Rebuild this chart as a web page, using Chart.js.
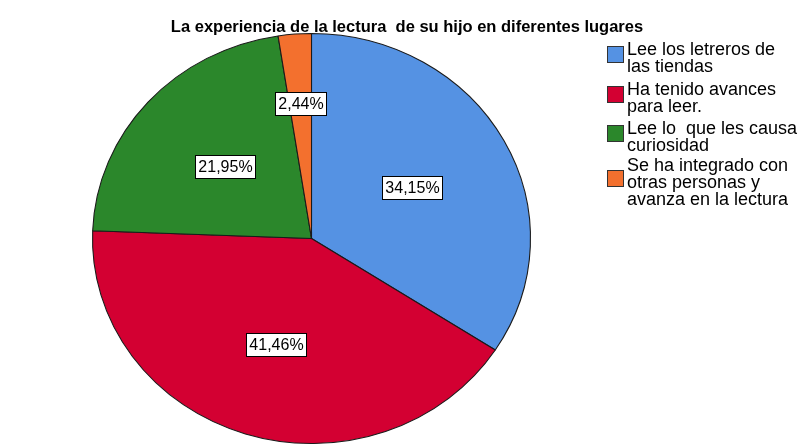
<!DOCTYPE html>
<html>
<head>
<meta charset="utf-8">
<script src="https://cdn.jsdelivr.net/npm/chart.js@4"></script>
<style>
  html, body { margin: 0; padding: 0; background: #fff; }
  #wrap { width: 798px; height: 445px; }
</style>
</head>
<body>
<div id="wrap"><canvas id="chart" width="798" height="445"></canvas></div>
<script>
const chartTitle = 'La experiencia de la lectura  de su hijo en diferentes lugares'
const categories = [
	['Lee los letreros de', 'las tiendas'],
	['Ha tenido avances', 'para leer.'],
	['Lee lo  que les causa', 'curiosidad'],
	['Se ha integrado con', 'otras personas y', 'avanza en la lectura']
]
const percents = [34.15, 41.46, 21.95, 2.44]
const sliceColors = ['#5592E3', '#D30032', '#2B872B', '#F3702E']

// the reference pie is a bit wider than tall
const STRETCH_X = 219 / 205
const labelDist = [0.52, 0.54, 0.53, 0.66]

const fmt = v => v.toFixed(2).replace('.', ',') + '%'

const spssLook = {
	id: 'spssLook',
	beforeDatasetsDraw(chart) {
		const arc = chart.getDatasetMeta(0).data[0]
		const ctx = chart.ctx
		ctx.save()
		ctx.translate(arc.x, 0)
		ctx.scale(STRETCH_X, 1)
		ctx.translate(-arc.x, 0)
	},
	afterDatasetsDraw(chart) {
		const ctx = chart.ctx
		ctx.restore()
		// value boxes
		ctx.save()
		ctx.font = '16px "Liberation Sans", Arial, sans-serif'
		ctx.textAlign = 'center'
		ctx.textBaseline = 'middle'
		chart.getDatasetMeta(0).data.forEach((arc, i) => {
			const mid = (arc.startAngle + arc.endAngle) / 2
			const r = arc.outerRadius * labelDist[i]
			const x = arc.x + Math.cos(mid) * r * STRETCH_X
			const y = arc.y + Math.sin(mid) * r
			const txt = fmt(chart.data.datasets[0].data[i])
			const w = Math.round(ctx.measureText(txt).width + 6)
			const h = 23
			const bx = Math.round(x - w / 2) + 0.5
			const by = Math.round(y - h / 2) + 0.5
			ctx.fillStyle = '#fff'
			ctx.fillRect(bx, by, w, h)
			ctx.strokeStyle = '#000'
			ctx.lineWidth = 1
			ctx.strokeRect(bx, by, w, h)
			ctx.fillStyle = '#000'
			ctx.fillText(txt, bx + w / 2, by + h / 2 + 1)
		})
		ctx.restore()
	},
	afterDraw(chart) {
		const ctx = chart.ctx
		ctx.save()
		// title
		ctx.fillStyle = '#000'
		ctx.font = 'bold 16.5px "Liberation Sans", Arial, sans-serif'
		ctx.textAlign = 'center'
		ctx.textBaseline = 'alphabetic'
		ctx.fillText(chartTitle, 407, 32)
		// legend
		ctx.font = '18px "Liberation Sans", Arial, sans-serif'
		ctx.textAlign = 'left'
		const baselines = [55, 95, 134, 171]
		const lineH = 17
		chart.data.labels.forEach((lines, i) => {
			const b0 = baselines[i]
			const meanB = b0 + (lines.length - 1) * lineH / 2
			const boxY = Math.round(meanB - 10 - 8) + 0.5
			ctx.fillStyle = chart.data.datasets[0].backgroundColor[i]
			ctx.fillRect(607.5, boxY, 16, 16)
			ctx.strokeStyle = '#333'
			ctx.lineWidth = 1
			ctx.strokeRect(607.5, boxY, 16, 16)
			ctx.fillStyle = '#000'
			lines.forEach((ln, j) => ctx.fillText(ln, 627, b0 + j * lineH))
		})
		ctx.restore()
	}
}

new Chart(document.getElementById('chart'), {
	type: 'pie',
	data: {
		labels: categories,
		datasets: [{
			data: percents,
			backgroundColor: sliceColors,
			borderColor: '#1a1a1a',
			borderWidth: 1
		}]
	},
	options: {
		responsive: false,
		animation: false,
		devicePixelRatio: 1,
		radius: 205,
		layout: { padding: { left: 107, right: 282, top: 34, bottom: 2 } },
		plugins: {
			legend: { display: false },
			title: { display: false },
			tooltip: { enabled: false }
		}
	},
	plugins: [spssLook]
})
</script>
</body>
</html>
